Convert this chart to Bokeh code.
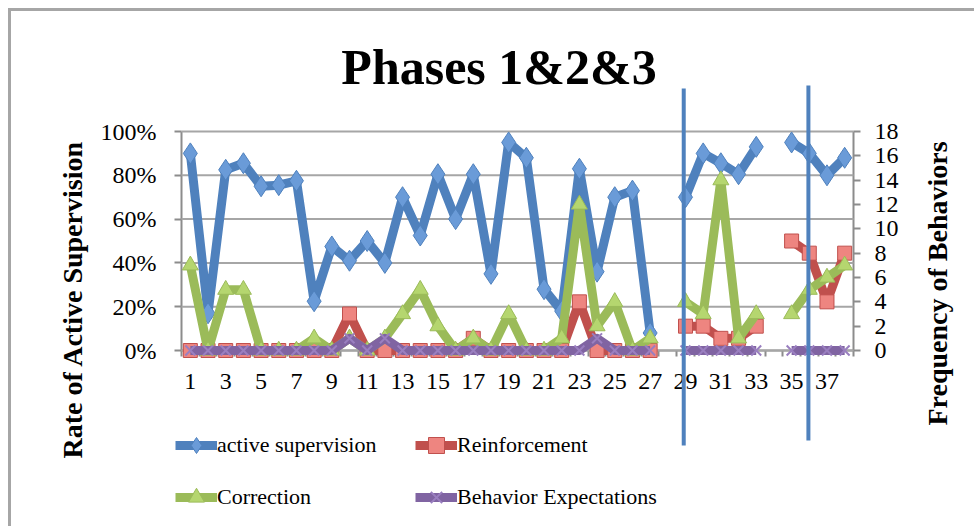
import math
import numpy as np
from bokeh.plotting import figure
from bokeh.models import (Range1d, LinearAxis, FixedTicker, NumeralTickFormatter,
                          Legend, LegendItem, Label, ColumnDataSource)
from bokeh.embed import file_html
from bokeh.resources import INLINE

NaN = float("nan")

# ---- data ----
sessions = list(range(1, 39))
active_supervision = [90, 17, 82.5, 85.5, 75, 75.5, 77.5, 22.5, 47.5, 41,
                      50, 40, 70, 52.5, 80.5, 60, 80.5, 35, 95, 88,
                      28, 18, 83, 36, 70, 73, 8, NaN, 70, 90,
                      85.5, 80.5, 93, NaN, 95, 90, 80, 88]
reinforcement = [0, 0, 0, 0, 0, 0, 0, 0, 0, 3,
                 0, 0, 0, 0, 0, 0, 1, 0, 0, 0,
                 0, 0, 4, 0, 0, 0, 0, NaN, 2, 2,
                 1, 1, 2, NaN, 9, 8, 4, 8]
correction = [7, 0, 5, 5, 0, 0, 0, 1, 0, 1,
              0, 1, 3, 5, 2, 0, 1, 0, 3, 0,
              0, 1, 12, 2, 4, 0, 1, NaN, 4, 3,
              14, 1, 3, NaN, 3, 5, 6, 7]
behavior_expectations = [0, 0, 0, 0, 0, 0, 0, 0, 0, 1,
                         0, 1, 0, 0, 0, 0, 0, 0, 0, 0,
                         0, 0, 0, 1, 0, 0, 0, NaN, 0, 0,
                         0, 0, 0, NaN, 0, 0, 0, 0]
x_tick_labels = list(range(1, 38, 2))
x_boundaries = [i + 0.5 for i in range(0, 39)]
pct_ticks = [0, 0.2, 0.4, 0.6, 0.8, 1.0]
freq_max = 18
freq_ticks = list(range(0, 19, 2))
phase_breaks = [28.9, 35.95]

# ---- layout (canvas pixels) ----
W, H = 966, 518
PLOT_L, PLOT_R, PLOT_T, PLOT_B = 170, 842, 120, 339
X_MIN, X_MAX = 0.5, 38.5
px_x = (X_MAX - X_MIN) / (PLOT_R - PLOT_L)
px_y = 1.0 / (PLOT_B - PLOT_T)
x_lo = X_MIN - PLOT_L * px_x
x_hi = X_MAX + (W - PLOT_R) * px_x
y_hi = 1.0 + PLOT_T * px_y
y_lo = -(H - PLOT_B) * px_y


def cx(px):
    return x_lo + px * px_x


def cy(py):
    return y_hi - py * px_y


phase_tops = [77, 74]
phase_bottoms = [434, 429]

FONT = "Liberation Serif"
BLUE = "#4F81BD"
BLUE_M = "#6A9BD8"
RED = "#C0504D"
RED_M = "#EE8580"
GREEN = "#9BBB59"
GREEN_M = "#B5D66F"
PURPLE = "#8064A2"
GRID = "#A6A6A6"
AXIS = "#8C8C8C"

src = ColumnDataSource(dict(
    x=np.array(sessions, dtype=float),
    active=np.array(active_supervision, dtype=float) / 100.0,
    reinf=np.array(reinforcement, dtype=float),
    corr=np.array(correction, dtype=float),
    beh=np.array(behavior_expectations, dtype=float),
))

p = figure(width=W, height=H,
           x_range=Range1d(x_lo, x_hi), y_range=Range1d(y_lo, y_hi),
           output_backend="svg", toolbar_location=None,
           min_border=0, min_border_left=0, min_border_right=0,
           min_border_top=0, min_border_bottom=0,
           background_fill_color="white", border_fill_color="white",
           outline_line_color=None)
p.styles = {"margin-left": "8px", "margin-top": "8px",
            "border-left": "3px solid #A6A6A6", "border-top": "3px solid #A6A6A6"}
p.extra_y_ranges = {"freq": Range1d(y_lo * freq_max, y_hi * freq_max)}
p.xgrid.visible = False
p.ygrid.visible = False

# gridlines (at the left-axis ticks, across the plot area)
p.segment(x0=[X_MIN] * len(pct_ticks), x1=[X_MAX] * len(pct_ticks),
          y0=pct_ticks, y1=pct_ticks, line_color=GRID, line_width=2)

# x axis
xa = p.xaxis[0]
xa.fixed_location = 0
xa.bounds = (X_MIN, X_MAX)
xa.ticker = FixedTicker(ticks=x_tick_labels, minor_ticks=x_boundaries)
xa.major_tick_out = 0
xa.major_tick_in = 0
xa.minor_tick_out = 6
xa.minor_tick_in = 0
xa.minor_tick_line_color = AXIS
xa.minor_tick_line_width = 2
xa.axis_line_color = AXIS
xa.axis_line_width = 2
xa.major_label_text_font = FONT
xa.major_label_text_font_size = "24px"
xa.major_label_text_color = "black"
xa.major_label_standoff = 17
xa.level = "underlay"

# left axis
ya = p.yaxis[0]
ya.fixed_location = X_MIN
ya.bounds = (0, 1)
ya.ticker = FixedTicker(ticks=pct_ticks)
ya.formatter = NumeralTickFormatter(format="0%")

ra = LinearAxis(y_range_name="freq", ticker=FixedTicker(ticks=freq_ticks),
                fixed_location=X_MAX, bounds=(0, freq_max))
p.add_layout(ra, "right")

for ax in (ya, ra):
    ax.major_tick_out = 7
    ax.major_tick_in = 0
    ax.minor_tick_out = 0
    ax.minor_tick_in = 0
    ax.major_tick_line_color = AXIS
    ax.major_tick_line_width = 2
    ax.axis_line_color = AXIS
    ax.axis_line_width = 2
    ax.major_label_text_font = FONT
    ax.major_label_text_font_size = "24px"
    ax.major_label_text_color = "black"
    ax.level = "underlay"
ya.major_label_standoff = 18
ra.major_label_standoff = 14

# series
bl = p.line("x", "active", source=src, line_color=BLUE, line_width=9, line_join="round")
bm = p.scatter("x", "active", source=src, marker="diamond", size=21,
               fill_color=BLUE_M, line_color=BLUE, line_width=1)
rl = p.line("x", "reinf", source=src, y_range_name="freq", line_color=RED, line_width=9, line_join="round")
rm = p.scatter("x", "reinf", source=src, y_range_name="freq", marker="square", size=14,
               fill_color=RED_M, line_color=RED, line_width=1)
gl = p.line("x", "corr", source=src, y_range_name="freq", line_color=GREEN, line_width=9, line_join="round")
gm = p.scatter("x", "corr", source=src, y_range_name="freq", marker="triangle", size=16,
               fill_color=GREEN_M, line_color=GREEN, line_width=1)
pl = p.line("x", "beh", source=src, y_range_name="freq", line_color=PURPLE, line_width=9, line_join="round")
pm = p.scatter("x", "beh", source=src, y_range_name="freq", marker="x", size=14,
               line_color="#9A7FC0", line_width=2)

# phase change lines
p.segment(x0=phase_breaks, x1=phase_breaks,
          y0=[cy(v) for v in phase_tops], y1=[cy(v) for v in phase_bottoms],
          line_color=BLUE, line_width=4)

# titles
p.add_layout(Label(x=cx(487.5), y=cy(55), text="Phases 1&2&3",
                   text_align="center", text_baseline="alphabetic",
                   text_font=FONT, text_font_size="50px", text_font_style="bold",
                   text_color="black"))
p.add_layout(Label(x=cx(61), y=cy(288), text="Rate of Active Supervision",
                   angle=math.pi / 2, text_align="center", text_baseline="middle",
                   text_font=FONT, text_font_size="28px", text_font_style="bold",
                   text_color="black"))
p.add_layout(Label(x=cx(926), y=cy(272), text="Frequency of Behaviors",
                   angle=math.pi / 2, text_align="center", text_baseline="middle",
                   text_font=FONT, text_font_size="28px", text_font_style="bold",
                   text_color="black"))

legend = Legend(items=[
    LegendItem(label="active supervision", renderers=[bl, bm]),
    LegendItem(label="Reinforcement", renderers=[rl, rm]),
    LegendItem(label="Correction", renderers=[gl, gm]),
    LegendItem(label="Behavior Expectations", renderers=[pl, pm]),
], orientation="horizontal", ncols=2, location=(164, 12))
legend.label_text_font = FONT
legend.label_text_font_size = "22px"
legend.label_text_color = "black"
legend.glyph_width = 42
legend.glyph_height = 40
legend.label_height = 40
legend.label_width = 186
legend.label_standoff = 0
legend.spacing = 12
legend.padding = 0
legend.margin = 0
legend.border_line_color = None
legend.background_fill_alpha = 0
p.add_layout(legend, "center")

open("out.html", "w").write(file_html(p, INLINE))
